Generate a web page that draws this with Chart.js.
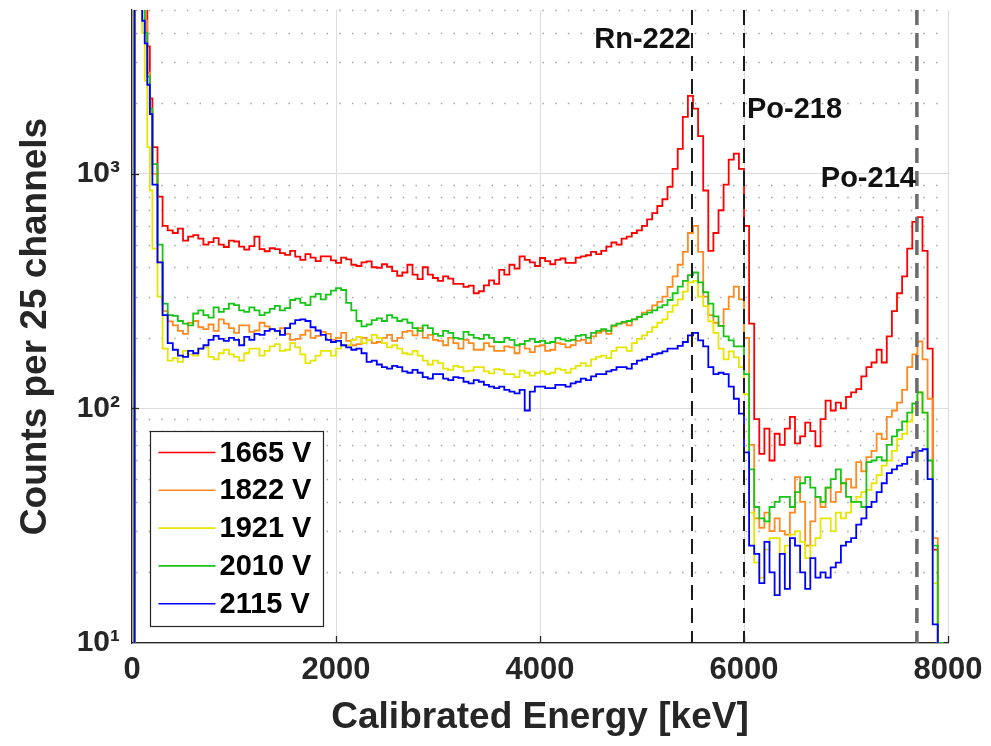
<!DOCTYPE html>
<html>
<head>
<meta charset="utf-8">
<script src="https://cdn.jsdelivr.net/npm/chart.js@4.4.1/dist/chart.umd.min.js"></script>
<style>
  body { margin: 0; background: #fff; }
  #wrap { width: 991px; height: 746px; }
</style>
</head>
<body>
<div id="wrap"><canvas id="spectrum" width="991" height="746"></canvas></div>
<script>
// bin start energies (keV)
const energyKeV = [
  0, 25, 50, 75, 100, 125, 150, 175, 200, 250, 300, 350,
  400, 450, 500, 550, 600, 650, 700, 750, 800, 850,
  900, 950, 1000, 1050, 1100, 1150, 1200, 1250, 1300, 1350,
  1400, 1450, 1500, 1550, 1600, 1650, 1700, 1750, 1800, 1850,
  1900, 1950, 2000, 2050, 2100, 2150, 2200, 2250, 2300, 2350,
  2400, 2450, 2500, 2550, 2600, 2650, 2700, 2750, 2800, 2850,
  2900, 2950, 3000, 3050, 3100, 3150, 3200, 3250, 3300, 3350,
  3400, 3450, 3500, 3550, 3600, 3650, 3700, 3750, 3800, 3850,
  3900, 3950, 4000, 4050, 4100, 4150, 4200, 4250, 4300, 4350,
  4400, 4450, 4500, 4550, 4600, 4650, 4700, 4750, 4800, 4850,
  4900, 4950, 5000, 5050, 5100, 5150, 5200, 5250, 5300, 5350,
  5400, 5450, 5500, 5550, 5600, 5650, 5700, 5750, 5800, 5850,
  5900, 5950, 6000, 6050, 6100, 6150, 6200, 6250, 6300, 6350,
  6400, 6450, 6500, 6550, 6600, 6650, 6700, 6750, 6800, 6850,
  6900, 6950, 7000, 7050, 7100, 7150, 7200, 7250, 7300, 7350,
  7400, 7450, 7500, 7550, 7600, 7650, 7700, 7750, 7800, 7850,
  7900, 7950
];

const counts1665 = [
  1, 20000, 20000, 15000, 9000, 5500, 3500, 2100, 1300, 800, 600, 575,
  560, 585, 520, 540, 548, 530, 500, 512, 532, 500,
  488, 520, 515, 490, 476, 492, 540, 478, 468, 482,
  478, 460, 452, 470, 444, 430, 455, 440, 425, 445,
  445, 428, 418, 440, 432, 410, 405, 420, 424, 400,
  398, 412, 402, 385, 368, 380, 410, 372, 356, 400,
  372, 360, 350, 366, 358, 340, 340, 330, 334, 310,
  316, 335, 352, 340, 390, 372, 410, 395, 445, 430,
  420, 405, 438, 425, 412, 430, 436, 418, 418, 440,
  445, 450, 465, 455, 470, 490, 510, 500, 530, 540,
  560, 575, 600, 640, 680, 730, 780, 880, 1050, 1280,
  1750, 2150, 1900, 1450, 850, 470, 560, 700, 900, 1150,
  1220, 1050, 600, 230, 90, 64, 82, 60, 78, 70,
  82, 92, 71, 76, 87, 80, 69, 90, 108, 98,
  106, 100, 112, 117, 121, 137, 150, 157, 178, 157,
  203, 260, 310, 366, 480, 624, 655, 470, 180, 25,
  6, 4
];

const counts1822 = [
  1, 20000, 20000, 12000, 7000, 4500, 2700, 1800, 1000, 420, 260, 235,
  226, 214, 208, 232, 236, 222, 218, 228, 214, 240,
  230, 220, 210, 226, 226, 212, 215, 232, 224, 218,
  214, 220, 208, 196, 198, 206, 215, 200, 204, 212,
  208, 196, 200, 210, 194, 186, 188, 200, 196, 190,
  192, 200, 206, 194, 200, 212, 214, 205, 220, 200,
  206, 196, 194, 186, 200, 190, 180, 196, 190, 178,
  178, 190, 184, 176, 176, 184, 182, 172, 188, 180,
  174, 184, 186, 176, 178, 190, 188, 182, 186, 194,
  196, 190, 203, 210, 214, 208, 224, 230, 232, 226,
  240, 246, 256, 262, 275, 285, 300, 330, 366, 410,
  465, 560, 600, 465, 300, 250, 232, 225, 265, 300,
  331, 292, 200, 70, 34, 31, 36, 30, 34, 30,
  29, 36, 51, 40, 26, 33, 42, 38, 46, 40,
  44, 48, 50, 46, 59, 54, 62, 66, 78, 74,
  92, 98, 106, 120, 150, 170, 193, 162, 110, 28,
  7, 4
];

const counts1921 = [
  1, 20000, 15000, 8000, 4000, 2500, 1300, 850, 480, 300, 180, 160,
  164, 158, 176, 170, 168, 180, 182, 166, 162, 172,
  178, 170, 166, 160, 172, 180, 180, 168, 176, 184,
  188, 176, 178, 190, 182, 170, 156, 160, 168, 176,
  176, 168, 180, 186, 186, 196, 202, 190, 196, 206,
  200, 190, 182, 186, 180, 172, 170, 176, 168, 160,
  154, 160, 156, 148, 146, 152, 150, 144, 145, 150,
  150, 144, 141, 147, 146, 140, 140, 136, 145, 142,
  138, 142, 144, 140, 142, 148, 146, 142, 148, 152,
  156, 152, 162, 166, 168, 164, 176, 182, 182, 176,
  190, 198, 205, 212, 222, 232, 240, 258, 275, 292,
  315, 345, 350, 300, 273, 235, 210, 180, 162, 175,
  165, 150, 115, 36, 22, 19, 25, 28, 28, 24,
  26, 29, 30, 27, 23, 26, 28, 34, 34, 30,
  36, 34, 36, 40, 42, 44, 45, 48, 52, 57,
  60, 66, 74, 78, 88, 100, 117, 96, 60, 18,
  7, 4
];

const counts2010 = [
  1, 20000, 20000, 12000, 6000, 4000, 2600, 1900, 1100, 500, 280, 250,
  248, 236, 230, 226, 254, 262, 250, 244, 270, 258,
  266, 280, 276, 262, 258, 270, 262, 250, 256, 266,
  274, 262, 268, 290, 294, 282, 276, 300, 308, 292,
  306, 318, 326, 320, 282, 262, 236, 224, 228, 238,
  242, 236, 250, 244, 236, 240, 232, 220, 214, 226,
  220, 208, 204, 214, 210, 200, 198, 212, 206, 200,
  198, 206, 200, 192, 192, 200, 196, 186, 188, 194,
  198, 192, 194, 190, 192, 200, 197, 194, 196, 204,
  206, 200, 210, 214, 218, 214, 226, 230, 234, 236,
  240, 246, 252, 256, 262, 270, 276, 290, 310, 331,
  350, 370, 380, 345, 313, 280, 247, 225, 203, 195,
  184, 184, 140, 55, 38, 34, 33, 38, 40, 42,
  42, 38, 44, 48, 51, 46, 42, 40, 46, 50,
  55, 48, 42, 40, 40, 38, 59, 60, 62, 60,
  70, 76, 81, 88, 96, 105, 117, 96, 60, 26,
  10, 5
];

const counts2115 = [
  1, 20000, 20000, 10000, 4500, 3600, 2400, 1800, 900, 420, 250, 190,
  178, 168, 166, 176, 172, 180, 186, 196, 204, 198,
  194, 200, 196, 186, 202, 196, 208, 206, 214, 218,
  214, 206, 220, 230, 238, 240, 236, 222, 215, 206,
  196, 192, 194, 186, 182, 178, 180, 172, 158, 160,
  154, 150, 148, 152, 150, 144, 142, 146, 142, 136,
  134, 140, 140, 134, 132, 136, 135, 130, 128, 132,
  130, 126, 124, 122, 124, 120, 118, 116, 120, 98,
  118, 124, 124, 122, 122, 126, 126, 124, 128, 130,
  134, 132, 137, 140, 140, 144, 146, 150, 150, 148,
  155, 160, 162, 166, 170, 172, 175, 180, 180, 185,
  192, 205, 210, 195, 184, 150, 140, 142, 140, 124,
  110, 95, 65, 26, 24, 18, 27, 20, 16, 24,
  17, 28, 26, 20, 17, 23, 19, 20, 19, 21,
  22, 26, 27, 28, 32, 34, 38, 40, 44, 48,
  53, 55, 57, 58, 62, 65, 66, 67, 50, 12,
  6, 4
];

const seriesLabels = ['1665 V', '1822 V', '1921 V', '2010 V', '2115 V'];
const xTicks = [0, 2000, 4000, 6000, 8000];
const yTicks = [10, 20, 30, 40, 50, 60, 70, 80, 90,
  100, 200, 300, 400, 500, 600, 700, 800, 900,
  1000, 2000, 3000, 4000, 5000];

const peakNames = ['Rn-222', 'Po-218', 'Po-214'];
const peakEnergy = [5490, 6000, 7695];

const fontFam = "'Liberation Sans', Arial, Helvetica, sans-serif";
const axisInk = '#262626';
const supDigits = { 1: '\u00b9', 2: '\u00b2', 3: '\u00b3' };

function isDecade(v) {
  var l = Math.log10(v);
  return Math.abs(l - Math.round(l)) < 1e-9;
}

function toPoints(arr) {
  return energyKeV.map((e, i) => ({ x: e, y: arr[i] }));
}

// dotted minor grid, like the matlab minor grid
const minorGrid = {
  id: 'minorGrid',
  beforeDatasetsDraw(chart) {
    var ctx = chart.ctx, area = chart.chartArea, ys = chart.scales.y;
    ctx.save();
    ctx.strokeStyle = '#a6a6a6';
    ctx.lineWidth = 1.3;
    ctx.setLineDash([1.5, 11.2]);
    ys.ticks.forEach(t => {
      if (isDecade(t.value)) return;
      var py = Math.round(ys.getPixelForValue(t.value)) + 0.5;
      ctx.beginPath();
      ctx.moveTo(area.left + 4, py);
      ctx.lineTo(area.right, py);
      ctx.stroke();
    });
    ctx.restore();
  }
};

// vertical dashed lines + isotope names
const peakMarks = {
  id: 'peakMarks',
  afterDatasetsDraw(chart, args, opts) {
    var ctx = chart.ctx, area = chart.chartArea;
    var xs = chart.scales.x, ys = chart.scales.y;
    ctx.save();
    peakEnergy.forEach((e, i) => {
      var px = xs.getPixelForValue(e);
      ctx.strokeStyle = opts.colors[i];
      ctx.lineWidth = opts.widths[i];
      ctx.setLineDash([15, 8]);
      ctx.beginPath();
      ctx.moveTo(px, area.top);
      ctx.lineTo(px, area.bottom);
      ctx.stroke();

      ctx.font = 'bold 29px ' + fontFam;
      ctx.fillStyle = '#111';
      ctx.textBaseline = 'middle';
      ctx.textAlign = opts.align[i];
      var gap = opts.align[i] === 'left' ? 3 : -1;
      ctx.fillText(peakNames[i], px + gap, ys.getPixelForValue(opts.labelAt[i]));
    });
    ctx.restore();
  }
};

// inward tick marks and boxed legend in the lower left corner
const boxLegend = {
  id: 'boxLegend',
  afterDraw(chart) {
    var ctx = chart.ctx, area = chart.chartArea;
    var xs = chart.scales.x, ys = chart.scales.y;
    ctx.save();
    ctx.strokeStyle = axisInk;
    ctx.lineWidth = 1.3;
    xTicks.slice(1).forEach(v => {
      var px = Math.round(xs.getPixelForValue(v)) + 0.5;
      ctx.beginPath(); ctx.moveTo(px, area.bottom); ctx.lineTo(px, area.bottom - 7); ctx.stroke();
    });
    yTicks.filter(isDecade).slice(1).forEach(v => {
      var py = Math.round(ys.getPixelForValue(v)) + 0.5;
      ctx.beginPath(); ctx.moveTo(area.left, py); ctx.lineTo(area.left + 7, py); ctx.stroke();
    });

    var sets = chart.data.datasets;
    var bx = area.left + 18.5, bw = 173, rowH = 37.8, bh = 195;
    var by = area.bottom - 16.5 - bh;
    ctx.fillStyle = '#fff';
    ctx.fillRect(bx, by, bw, bh);
    ctx.strokeStyle = axisInk;
    ctx.lineWidth = 1.2;
    ctx.strokeRect(bx, by, bw, bh);
    ctx.font = 'bold 29px ' + fontFam;
    ctx.textBaseline = 'middle';
    ctx.textAlign = 'left';
    sets.forEach((ds, i) => {
      var cy = by + 21 + i * rowH;
      ctx.strokeStyle = ds.borderColor;
      ctx.lineWidth = 1.6;
      ctx.beginPath(); ctx.moveTo(bx + 8, cy); ctx.lineTo(bx + 65, cy); ctx.stroke();
      ctx.fillStyle = '#000';
      ctx.fillText(ds.label, bx + 69, cy + 1);
    });
    ctx.restore();
  }
};

const lineColors = ['#ff0000', '#ff8a1f', '#e6e600', '#17c517', '#0000ff'];
const allCounts = [counts1665, counts1822, counts1921, counts2010, counts2115];

var ctx = document.getElementById('spectrum').getContext('2d');
var chart = new Chart(ctx, {
  type: 'line',
  data: {
    datasets: allCounts.map((arr, i) => ({
      label: seriesLabels[i],
      data: toPoints(arr),
      borderColor: lineColors[i],
      borderWidth: 1.8,
      pointRadius: 0,
      stepped: true,
      fill: false,
      order: 5 - i
    }))
  },
  options: {
    responsive: false,
    animation: false,
    devicePixelRatio: 1,
    events: [],
    layout: { padding: { left: 0, right: 43, top: 10, bottom: 0 } },
    plugins: {
      legend: { display: false },
      tooltip: { enabled: false },
      peakMarks: {
        colors: ['#1a1a1a', '#1a1a1a', '#6b6b6b'],
        widths: [2, 2, 3.5],
        labelAt: [3740, 1880, 952],
        align: ['right', 'left', 'right']
      }
    },
    scales: {
      x: {
        type: 'linear',
        min: 0,
        max: 8000,
        afterBuildTicks: s => { s.ticks = xTicks.map(v => ({ value: v })); },
        afterFit: s => { s.height = 103; s.paddingLeft = 0; s.paddingRight = 0; },
        grid: { color: '#dcdcdc', drawTicks: false },
        border: { color: axisInk, width: 1.3 },
        ticks: {
          autoSkip: false, maxRotation: 0, padding: 9, color: axisInk,
          font: { family: fontFam, size: 31, weight: 'bold' },
          callback: v => String(v)
        },
        title: {
          display: true, text: 'Calibrated Energy [keV]', color: axisInk,
          font: { family: fontFam, size: 37, weight: 'bold' },
          padding: { top: 0, bottom: 6 }
        }
      },
      y: {
        type: 'logarithmic',
        min: 10,
        max: 5000,
        afterBuildTicks: s => { s.ticks = yTicks.map(v => ({ value: v })); },
        afterFit: s => { s.width = 132; s.paddingTop = 0; s.paddingBottom = 0; },
        grid: {
          drawTicks: false,
          color: c => (c.tick && isDecade(c.tick.value)) ? '#dcdcdc' : 'rgba(0,0,0,0)'
        },
        border: { color: axisInk, width: 1.3 },
        ticks: {
          autoSkip: false, padding: 12, color: axisInk,
          font: { family: fontFam, size: 30, weight: 'bold' },
          callback: v => isDecade(v) ? '10' + supDigits[Math.round(Math.log10(v))] : ''
        },
        title: {
          display: true, text: 'Counts per 25 channels', color: axisInk,
          font: { family: fontFam, size: 37, weight: 'bold' },
          padding: { top: 14, bottom: 0 }
        }
      }
    }
  },
  plugins: [minorGrid, peakMarks, boxLegend]
});
</script>
</body>
</html>
